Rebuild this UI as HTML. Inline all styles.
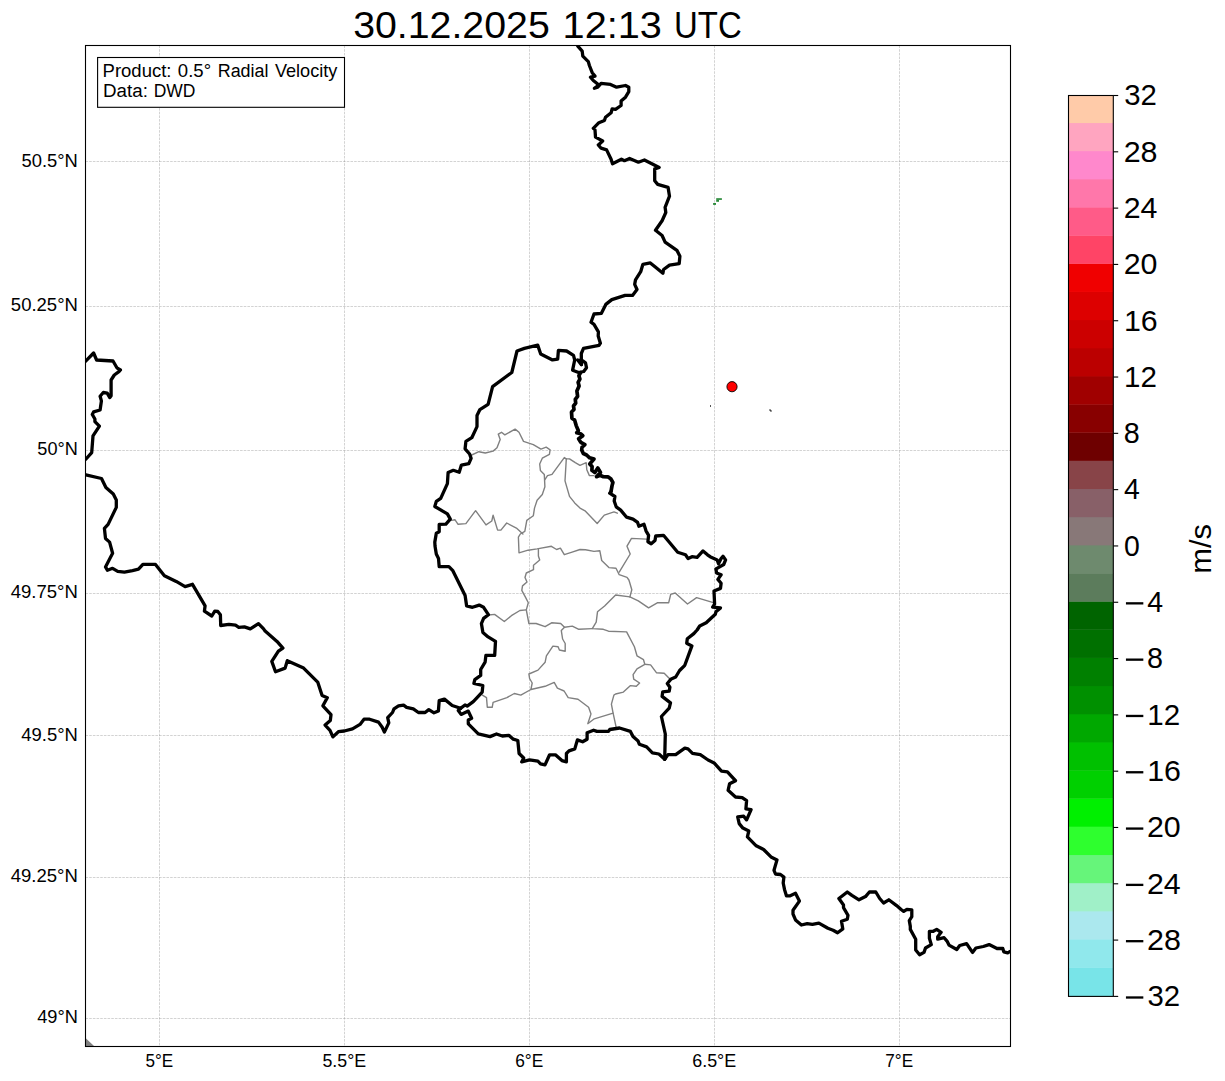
<!DOCTYPE html><html><head><meta charset="utf-8"><style>html,body{margin:0;padding:0;background:#fff;overflow:hidden;width:1225px;height:1081px;}svg{display:block;}text{font-family:"Liberation Sans",sans-serif;fill:#000;}</style></head><body>
<svg width="1225" height="1081" viewBox="0 0 1225 1081">
<rect x="0" y="0" width="1225" height="1081" fill="#fff"/>
<defs><clipPath id="ax"><rect x="85.5" y="45.5" width="925.0" height="1001.0"/></clipPath></defs>
<g clip-path="url(#ax)">
<g stroke="#808080" stroke-opacity="0.5" stroke-width="0.7" stroke-dasharray="2.57,1.11" fill="none">
<line x1="159.50" y1="45.5" x2="159.50" y2="1046.5"/>
<line x1="344.50" y1="45.5" x2="344.50" y2="1046.5"/>
<line x1="529.50" y1="45.5" x2="529.50" y2="1046.5"/>
<line x1="714.50" y1="45.5" x2="714.50" y2="1046.5"/>
<line x1="899.50" y1="45.5" x2="899.50" y2="1046.5"/>
<line x1="85.5" y1="161.50" x2="1010.5" y2="161.50"/>
<line x1="85.5" y1="306.50" x2="1010.5" y2="306.50"/>
<line x1="85.5" y1="450.50" x2="1010.5" y2="450.50"/>
<line x1="85.5" y1="593.50" x2="1010.5" y2="593.50"/>
<line x1="85.5" y1="735.50" x2="1010.5" y2="735.50"/>
<line x1="85.5" y1="877.50" x2="1010.5" y2="877.50"/>
<line x1="85.5" y1="1018.50" x2="1010.5" y2="1018.50"/>
</g>
<g stroke="#808080" stroke-width="1.4" fill="none" stroke-linejoin="round" stroke-linecap="round">
<path d="M471.7,455.0 L478.9,451.7 L485.3,453.0 L493.1,451.1 L497.0,447.8 L500.2,439.4 L498.3,434.2 L501.5,432.3 L504.8,434.9 L515.1,429.1 L519.0,432.3 L523.5,441.4 L533.3,444.6 L541.0,449.1 L546.2,447.2 L550.1,449.8 L549.4,454.3 L542.3,458.2 L539.7,464.0 L540.4,470.5 L544.3,474.4 L544.9,486.7 L542.3,494.5 L537.1,500.3 L534.5,508.1 L533.3,515.8 L526.8,520.4 L524.8,531.4 L520.3,534.0 L518.4,537.2 L519.0,552.8 L528.1,550.2 L537.1,548.9 L551.4,546.3 L556.6,549.5 L560.4,548.2 L564.3,554.7 L572.1,552.1 L580.0,549.5 L585.5,549.8 L594.0,551.4 L599.8,550.7 L601.7,560.5 L608.9,567.6 L616.0,568.2 L619.2,574.7 L627.0,577.3 L628.9,580.0 L629.9,583.3 L631.8,589.8 L629.9,596.9"/>
<path d="M644.8,664.3 L637.0,668.8 L633.1,674.6 L633.7,679.2 L639.6,683.0 L636.3,686.3 L630.5,685.6 L623.4,692.1 L615.6,694.0 L613.9,695.1 L611.4,704.1 L613.1,713.1 L616.3,727.8"/>
<path d="M564.5,627.3 L561.3,630.6 L562.6,639.0 L565.2,643.5 L565.2,651.3 L559.4,650.0 L558.1,646.8 L552.9,646.1 L546.4,655.8 L545.1,662.3 L538.0,670.1 L528.9,674.0 L529.6,678.5 L532.2,683.0 L530.9,689.5 L545.1,686.3 L554.2,682.4 L557.4,688.2 L564.1,691.0 L568.2,697.6 L578.0,699.2 L588.6,707.3 L591.0,713.9 L587.8,723.7 L594.3,718.8 L613.1,713.1"/>
<path d="M530.9,689.5 L520.8,695.1 L514.3,693.5 L506.9,697.6 L493.1,702.4 L492.2,707.3 L487.3,707.3 L486.5,697.6 L482.4,695.1"/>
<path d="M488.8,615.0 L494.6,614.4 L504.3,621.5 L511.4,615.7 L519.9,610.5 L526.3,609.9"/>
<path d="M544.9,479.6 L547.5,475.7 L552.0,474.4 L564.3,457.6 L566.3,458.9 L569.5,458.9 L575.3,462.7 L580.0,465.3 L586.2,462.7 L586.8,469.8 L589.4,475.6 L594.0,475.6"/>
<path d="M566.3,458.9 L565.0,480.9 L569.5,496.4 L574.7,502.9 L580.0,508.1 L585.5,511.2 L597.2,523.5 L604.3,515.1 L614.0,511.9 L617.3,513.2"/>
<path d="M451.7,520.4 L454.9,519.7 L458.1,524.3 L465.9,523.6 L475.6,510.7 L486.0,524.9 L491.8,521.0 L493.1,515.2 L497.6,530.1 L500.9,530.1 L506.7,523.0 L516.4,528.1 L522.9,534.0"/>
<path d="M538.4,549.5 L538.4,556.0 L539.7,560.0 L533.5,565.2 L533.5,569.7 L526.3,573.0 L525.0,577.5 L527.0,582.0 L522.5,585.9 L521.8,590.4 L525.7,597.6 L528.3,602.7 L526.3,609.9 L528.9,623.5 L536.1,623.5 L545.1,626.7 L551.6,622.8 L560.7,623.5 L564.5,627.3 L572.3,626.1 L578.8,629.3 L592.3,628.6"/>
<path d="M646.4,539.1 L631.5,538.4 L627.0,546.2 L630.2,554.0 L619.2,572.1"/>
<path d="M629.9,596.9 L638.3,600.8 L648.6,607.9 L657.7,602.7 L668.7,602.7 L670.7,594.3 L675.2,593.0 L687.5,604.0 L696.6,597.6 L713.4,602.7"/>
<path d="M629.9,596.9 L615.6,595.0 L604.6,606.0 L597.5,611.8 L596.2,622.2 L592.3,628.6 L603.3,629.3 L608.5,631.2 L626.6,631.9 L634.4,646.8 L637.0,655.8 L643.5,659.7 L644.8,664.3 L650.6,664.9 L656.4,672.7 L664.2,673.3 L669.4,678.5"/>
</g>
<g stroke="#000" stroke-width="3.3" fill="none" stroke-linejoin="round" stroke-linecap="round">
<path d="M85.4,361.4 L93.6,353.0 L96.6,360.0 L113.0,361.0 L116.9,367.8 L120.4,370.0 L118.9,371.7 L114.3,375.0 L111.1,380.0 L111.1,395.7 L109.8,397.6 L107.2,393.1 L103.3,392.5 L100.1,396.3 L101.4,400.9 L100.1,410.0 L93.6,411.9 L92.3,414.5 L94.9,419.0 L94.9,421.6 L99.4,426.1 L93.0,435.9 L91.7,452.7 L85.8,459.2"/>
<path d="M85.9,474.8 L101.5,478.5 L105.9,487.4 L113.3,494.0 L116.3,500.0 L116.3,507.4 L108.1,524.4 L104.4,528.4 L105.5,538.4 L109.6,542.1 L112.6,553.3 L105.5,566.9 L107.4,570.3 L112.6,568.3 L117.7,571.3 L124.4,572.2 L132.5,570.7 L138.5,569.2 L142.9,564.4 L155.5,564.4 L164.4,575.7 L176.2,581.4 L185.1,586.6 L192.5,584.3 L205.1,605.8 L204.4,611.1 L211.8,616.0 L214.8,611.1 L217.8,611.5 L220.4,614.8 L220.7,625.5 L228.9,624.4 L235.5,625.2 L238.8,627.4 L244.4,626.9 L250.3,628.9 L258.5,623.7 L263.6,628.9 L265.1,631.1 L277.0,641.4 L282.9,648.1 L278.4,651.1 L271.8,661.4 L275.5,671.8 L285.1,668.1 L287.3,660.7 L303.6,668.1 L317.7,682.1 L322.1,695.5 L327.3,697.7 L322.9,705.8 L331.0,714.7 L330.3,720.6 L325.1,725.1 L330.0,730.3 L332.9,736.9 L338.4,731.7 L344.3,731.0 L352.5,728.8 L360.0,724.4 L364.0,719.2 L369.6,719.2 L378.5,722.1 L382.2,727.3 L384.4,732.1 L388.8,722.9 L387.7,717.7 L392.5,712.5 L394.0,708.8 L398.5,705.9 L403.6,705.1 L406.6,707.3 L413.3,708.8 L418.4,712.5 L425.1,712.5 L428.8,709.6 L434.0,712.8 L438.4,711.0 L439.2,700.7 L444.4,699.1 L452.2,705.5 L460.5,708.3"/>
<path d="M460.5,708.3 L465.0,705.0 L467.2,706.1 L473.3,701.6 L482.2,692.2 L482.8,685.5 L473.9,683.3 L474.8,679.6 L480.7,675.4 L480.7,669.5 L485.1,662.1 L485.9,655.4 L494.7,655.4 L495.5,641.4 L488.1,636.9 L482.9,632.5 L481.4,623.6 L483.6,618.4 L488.4,614.7 L483.6,607.3 L479.2,605.1 L472.5,607.3 L466.6,605.8 L465.1,595.5 L452.6,570.3 L448.9,566.6 L439.2,566.6 L438.5,558.4 L436.3,554.0 L435.0,546.0 L434.8,542.1 L436.3,533.3 L439.2,531.8 L439.2,524.4 L445.9,524.1 L450.3,519.1 L447.4,513.9 L434.8,506.5 L436.3,501.4 L440.7,498.4 L447.4,483.6 L448.1,472.5 L453.3,470.3 L459.2,472.2 L461.4,465.1 L468.8,463.6 L471.1,458.4 L469.6,454.0 L465.1,448.8 L465.9,441.4 L471.8,437.7 L477.0,426.6 L477.0,415.5 L479.9,409.6 L488.1,404.4 L492.6,386.6 L511.8,372.5 L517.0,351.0 L524.4,348.4 L537.7,345.1 L540.7,354.0 L552.5,359.9 L557.7,359.2 L558.4,350.3 L566.6,351.0 L573.5,355.4 L574.7,360.0 L572.6,370.2 L578.6,372.5 L583.7,371.5 L586.5,367.8 L585.5,362.8 L582.8,360.9 L577.7,360.0 L581.4,364.6"/>
<path d="M581.4,364.6 L581.3,353.5 L583.5,348.4 L588.7,347.3 L599.0,345.4 L600.4,343.2 L598.2,335.9 L598.4,331.8 L594.0,324.4 L591.0,322.2 L594.0,314.0 L601.4,313.3 L605.8,304.4 L611.8,299.6 L625.1,295.4 L632.5,295.4 L637.0,289.5 L634.7,284.3 L635.5,279.9 L640.7,271.7 L642.9,264.3 L650.3,262.9 L654.7,266.6 L662.9,273.2 L663.6,269.5 L669.5,265.1 L679.2,263.6 L679.9,256.2 L676.9,250.3 L665.1,242.1 L662.1,235.5 L655.5,230.3 L662.1,220.7 L665.8,212.5 L665.1,207.3 L669.5,196.2 L668.1,187.4 L657.7,184.4 L654.7,180.7 L654.7,168.9 L659.2,167.4 L644.4,160.0 L638.4,162.2 L629.6,158.5 L624.4,160.7 L621.4,159.2 L612.5,163.7 L611.1,159.3 L606.6,149.9 L601.1,148.2 L598.3,144.9 L602.7,141.0 L595.5,137.1 L595.0,129.9 L593.3,128.3 L598.9,122.7 L604.4,120.5 L605.5,117.2 L611.1,112.7 L612.2,108.8 L615.5,109.4 L621.1,105.5 L621.1,101.1 L625.5,97.2 L628.8,91.6 L628.8,87.2 L625.5,85.5 L616.6,87.2 L610.5,84.4 L601.1,83.3 L597.7,87.2 L594.4,88.3 L598.9,85.0 L593.3,80.5 L590.5,77.2 L595.0,76.1 L592.2,72.7 L589.4,65.5 L588.3,61.6 L582.8,56.1 L582.2,51.1 L577.8,46.1 L576.0,42.0"/>
<path d="M611.0,491.5 L609.7,493.2 L614.9,496.5 L614.2,501.0 L616.2,506.8 L620.7,510.1 L626.6,517.2 L633.0,519.1 L637.6,522.4 L638.9,526.3 L644.0,524.3 L646.0,530.8 L648.6,535.3 L647.9,541.8 L651.2,543.7 L655.0,540.5 L655.7,536.0 L663.5,535.3 L677.7,552.2 L685.5,554.8 L688.1,558.6 L692.0,556.7 L697.1,557.3 L703.0,550.9 L707.5,554.8 L710.1,556.7 L717.2,559.9 L718.5,563.8 L721.1,558.6 L723.0,556.3 L725.6,559.9 L723.7,564.5 L719.2,567.1 L715.9,569.0 L716.6,572.9 L721.1,574.8 L717.9,579.4 L721.1,583.3 L720.5,588.4 L714.0,591.0 L714.6,604.0 L712.7,607.2 L720.5,607.9 L715.9,611.8 L715.3,614.3 L706.2,622.8 L699.7,626.0 L697.1,630.0 L693.8,633.6 L687.3,638.8 L686.7,643.3 L691.9,645.9 L684.8,665.3 L679.6,670.5 L675.7,677.0 L671.2,678.9 L667.3,683.5 L669.9,687.3 L669.2,691.2 L662.7,691.9 L662.1,696.4 L670.5,702.9 L669.2,708.1 L661.4,716.5 L665.3,734.0 L664.7,759.2"/>
<path d="M460.5,708.3 L458.3,710.5 L461.1,714.4 L468.3,711.1 L471.6,718.3 L468.3,720.0 L468.3,723.8 L478.3,733.8 L490.0,736.6 L496.5,734.0 L502.3,736.0 L508.8,735.3 L513.3,739.2 L517.8,740.5 L519.1,753.5 L523.7,758.0 L521.7,761.9 L529.5,759.9 L537.9,761.2 L540.5,763.8 L545.0,764.9 L549.6,754.8 L555.4,754.8 L561.9,760.6 L566.4,761.9 L566.4,753.5 L569.0,750.9 L574.8,748.9 L577.4,739.9 L582.6,741.8 L587.1,739.2 L587.1,732.7 L593.6,730.2 L596.9,731.4 L608.5,731.4 L609.8,729.5 L619.5,728.0 L630.4,731.4 L633.0,736.6 L638.1,741.1 L639.4,744.3 L646.6,746.9 L652.4,752.8 L658.9,754.0 L664.7,759.2"/>
<path d="M664.7,759.2 L667.9,754.7 L675.7,754.7 L684.8,748.2 L688.0,748.9 L692.5,753.4 L700.3,754.7 L708.1,760.0 L714.1,762.9 L721.5,771.1 L727.4,771.8 L735.5,780.7 L729.6,783.7 L728.1,790.3 L735.5,797.0 L742.2,797.7 L746.6,800.7 L745.9,808.8 L751.1,809.6 L746.6,819.9 L743.7,816.2 L737.7,817.0 L739.2,823.6 L742.9,828.1 L748.8,831.0 L747.4,836.9 L756.2,845.8 L763.6,849.5 L771.0,856.9 L777.0,859.9 L774.0,870.3 L775.5,874.0 L780.5,874.5 L783.9,877.1 L783.2,883.0 L784.5,889.4 L786.5,895.9 L789.7,895.9 L795.5,893.3 L799.4,901.1 L793.0,910.2 L793.0,914.0 L795.5,919.9 L801.4,925.0 L807.2,923.7 L812.4,924.4 L818.9,923.1 L827.9,928.3 L833.1,930.2 L837.6,932.8 L842.8,928.9 L841.5,921.2 L847.3,919.2 L848.0,915.3 L843.5,907.6 L843.5,905.0 L838.9,898.5 L847.3,892.0 L851.9,895.3 L859.0,899.8 L865.5,896.6 L869.4,892.0 L875.8,892.0 L879.7,898.5 L883.6,903.0 L888.8,899.8 L896.6,905.6 L901.1,909.5 L903.7,911.4 L906.9,909.3 L911.8,909.8 L911.8,916.7 L909.3,920.6 L910.3,926.4 L910.3,929.4 L915.7,939.2 L915.7,950.0 L919.6,954.8 L924.0,952.4 L925.5,948.0 L931.3,944.6 L929.4,938.2 L929.4,931.3 L933.3,931.3 L936.7,929.4 L941.1,932.3 L937.7,936.7 L937.7,939.2 L944.1,937.7 L947.0,941.1 L949.0,945.1 L956.8,949.5 L959.7,945.5 L966.6,943.6 L972.5,952.4 L975.9,948.0 L983.3,946.5 L989.1,944.6 L997.0,948.5 L1002.8,948.5 L1003.8,951.9 L1007.7,952.9 L1010.2,951.4"/>
<path d="M580.6,372.7 L578.9,375.7 L579.9,379.1 L578.1,382.3 L579.1,385.9 L576.9,390.9 L577.6,396.3 L575.3,399.4 L575.7,403.2 L573.5,406.0 L574.0,409.5 L571.5,412.0 L571.7,414.9 L571.9,418.2 L574.6,420.1 L576.2,425.6 L578.4,430.8 L576.7,432.8 L580.5,433.7 L582.8,435.7 L578.6,438.8 L580.8,442.4 L584.9,444.7 L582.1,447.1 L581.7,450.0 L583.3,453.5 L586.6,455.0 L589.6,457.8 L594.0,459.1 L589.7,463.9 L592.1,466.5 L591.9,470.3 L594.9,472.5 L597.8,468.0 L600.5,472.4 L596.5,476.7 L600.0,475.3 L603.4,476.7 L607.9,476.8 L611.0,479.1 L612.9,482.5 L612.0,485.9 L611.0,491.5" stroke-width="3.7"/>
</g>
</g>
<path d="M86,1038.5 L86,1046 L94,1046 Z" fill="#808080"/>
<rect x="85.5" y="45.5" width="925.0" height="1001.0" fill="none" stroke="#000" stroke-width="1.1"/>
<rect x="97.6" y="57.5" width="246.9" height="49.8" fill="#fff" stroke="#000" stroke-width="1.1"/>
<text x="102.58" y="76.70" font-size="17.88" textLength="68.91" lengthAdjust="spacingAndGlyphs">Product:</text>
<text x="177.87" y="76.70" font-size="17.88" textLength="33.24" lengthAdjust="spacingAndGlyphs">0.5°</text>
<text x="217.73" y="76.70" font-size="17.88" textLength="50.77" lengthAdjust="spacingAndGlyphs">Radial</text>
<text x="274.92" y="76.70" font-size="17.88" textLength="62.51" lengthAdjust="spacingAndGlyphs">Velocity</text>
<text x="103.06" y="96.80" font-size="17.88" textLength="44.85" lengthAdjust="spacingAndGlyphs">Data:</text>
<text x="153.67" y="96.80" font-size="17.88" textLength="41.77" lengthAdjust="spacingAndGlyphs">DWD</text>
<text x="353.20" y="37.60" font-size="36.77" textLength="196.54" lengthAdjust="spacingAndGlyphs">30.12.2025</text>
<text x="562.58" y="37.60" font-size="36.77" textLength="99.26" lengthAdjust="spacingAndGlyphs">12:13</text>
<text x="674.06" y="37.60" font-size="36.77" textLength="67.70" lengthAdjust="spacingAndGlyphs">UTC</text>
<text x="21.46" y="166.90" font-size="17.88" textLength="56.44" lengthAdjust="spacingAndGlyphs">50.5°N</text>
<text x="10.85" y="310.80" font-size="17.88" textLength="67.05" lengthAdjust="spacingAndGlyphs">50.25°N</text>
<text x="37.38" y="454.80" font-size="17.88" textLength="40.50" lengthAdjust="spacingAndGlyphs">50°N</text>
<text x="10.70" y="597.60" font-size="17.88" textLength="67.22" lengthAdjust="spacingAndGlyphs">49.75°N</text>
<text x="21.30" y="740.80" font-size="17.88" textLength="56.60" lengthAdjust="spacingAndGlyphs">49.5°N</text>
<text x="10.70" y="881.60" font-size="17.88" textLength="67.22" lengthAdjust="spacingAndGlyphs">49.25°N</text>
<text x="37.22" y="1022.60" font-size="17.88" textLength="40.67" lengthAdjust="spacingAndGlyphs">49°N</text>
<text x="145.40" y="1066.90" font-size="18.17" textLength="27.74" lengthAdjust="spacingAndGlyphs">5°E</text>
<text x="322.43" y="1066.90" font-size="18.17" textLength="43.70" lengthAdjust="spacingAndGlyphs">5.5°E</text>
<text x="515.18" y="1066.90" font-size="18.17" textLength="28.06" lengthAdjust="spacingAndGlyphs">6°E</text>
<text x="692.22" y="1066.90" font-size="18.17" textLength="44.03" lengthAdjust="spacingAndGlyphs">6.5°E</text>
<text x="885.32" y="1066.90" font-size="18.17" textLength="27.86" lengthAdjust="spacingAndGlyphs">7°E</text>
<rect x="1068.5" y="967.25" width="44.80" height="29.15" fill="#78E4E8"/>
<rect x="1068.5" y="939.09" width="44.80" height="28.55" fill="#90E8EC"/>
<rect x="1068.5" y="910.94" width="44.80" height="28.55" fill="#ABE8EE"/>
<rect x="1068.5" y="882.79" width="44.80" height="28.55" fill="#A0F0C8"/>
<rect x="1068.5" y="854.63" width="44.80" height="28.55" fill="#66F57A"/>
<rect x="1068.5" y="826.48" width="44.80" height="28.55" fill="#2EFF2E"/>
<rect x="1068.5" y="798.33" width="44.80" height="28.55" fill="#00F000"/>
<rect x="1068.5" y="770.17" width="44.80" height="28.55" fill="#00D000"/>
<rect x="1068.5" y="742.02" width="44.80" height="28.55" fill="#00C000"/>
<rect x="1068.5" y="713.87" width="44.80" height="28.55" fill="#00A800"/>
<rect x="1068.5" y="685.72" width="44.80" height="28.55" fill="#009000"/>
<rect x="1068.5" y="657.56" width="44.80" height="28.55" fill="#008000"/>
<rect x="1068.5" y="629.41" width="44.80" height="28.55" fill="#007000"/>
<rect x="1068.5" y="601.26" width="44.80" height="28.55" fill="#006400"/>
<rect x="1068.5" y="573.10" width="44.80" height="28.55" fill="#5C7C5C"/>
<rect x="1068.5" y="544.95" width="44.80" height="28.55" fill="#6E8A6E"/>
<rect x="1068.5" y="516.80" width="44.80" height="28.55" fill="#887878"/>
<rect x="1068.5" y="488.64" width="44.80" height="28.55" fill="#886068"/>
<rect x="1068.5" y="460.49" width="44.80" height="28.55" fill="#884448"/>
<rect x="1068.5" y="432.34" width="44.80" height="28.55" fill="#6E0000"/>
<rect x="1068.5" y="404.18" width="44.80" height="28.55" fill="#880000"/>
<rect x="1068.5" y="376.03" width="44.80" height="28.55" fill="#A00000"/>
<rect x="1068.5" y="347.88" width="44.80" height="28.55" fill="#BB0000"/>
<rect x="1068.5" y="319.73" width="44.80" height="28.55" fill="#CC0000"/>
<rect x="1068.5" y="291.57" width="44.80" height="28.55" fill="#DD0000"/>
<rect x="1068.5" y="263.42" width="44.80" height="28.55" fill="#F00000"/>
<rect x="1068.5" y="235.27" width="44.80" height="28.55" fill="#FF4466"/>
<rect x="1068.5" y="207.11" width="44.80" height="28.55" fill="#FF5B88"/>
<rect x="1068.5" y="178.96" width="44.80" height="28.55" fill="#FF77AA"/>
<rect x="1068.5" y="150.81" width="44.80" height="28.55" fill="#FF88CC"/>
<rect x="1068.5" y="122.65" width="44.80" height="28.55" fill="#FFA5C0"/>
<rect x="1068.5" y="95.50" width="44.80" height="27.55" fill="#FFCBA9"/>
<rect x="1068.5" y="95.5" width="44.80" height="900.90" fill="none" stroke="#000" stroke-width="1.1"/>
<line x1="1113.3" y1="996.40" x2="1118.20" y2="996.40" stroke="#000" stroke-width="1.1"/>
<rect x="1125.94" y="996.34" width="17.39" height="2.31" fill="#000"/>
<text x="1147.47" y="1006.20" font-size="29.43" textLength="32.65" lengthAdjust="spacingAndGlyphs">32</text>
<line x1="1113.3" y1="940.09" x2="1118.20" y2="940.09" stroke="#000" stroke-width="1.1"/>
<rect x="1125.94" y="940.03" width="17.39" height="2.31" fill="#000"/>
<text x="1146.98" y="949.89" font-size="29.43" textLength="33.87" lengthAdjust="spacingAndGlyphs">28</text>
<line x1="1113.3" y1="883.79" x2="1118.20" y2="883.79" stroke="#000" stroke-width="1.1"/>
<rect x="1125.94" y="883.73" width="17.39" height="2.31" fill="#000"/>
<text x="1146.98" y="893.59" font-size="29.43" textLength="33.77" lengthAdjust="spacingAndGlyphs">24</text>
<line x1="1113.3" y1="827.48" x2="1118.20" y2="827.48" stroke="#000" stroke-width="1.1"/>
<rect x="1125.94" y="827.42" width="17.39" height="2.31" fill="#000"/>
<text x="1146.98" y="837.28" font-size="29.43" textLength="33.78" lengthAdjust="spacingAndGlyphs">20</text>
<line x1="1113.3" y1="771.17" x2="1118.20" y2="771.17" stroke="#000" stroke-width="1.1"/>
<rect x="1125.94" y="771.11" width="17.39" height="2.31" fill="#000"/>
<text x="1147.21" y="780.97" font-size="29.43" textLength="33.80" lengthAdjust="spacingAndGlyphs">16</text>
<line x1="1113.3" y1="714.87" x2="1118.20" y2="714.87" stroke="#000" stroke-width="1.1"/>
<rect x="1125.94" y="714.81" width="17.39" height="2.31" fill="#000"/>
<text x="1147.28" y="724.67" font-size="29.43" textLength="32.85" lengthAdjust="spacingAndGlyphs">12</text>
<line x1="1113.3" y1="658.56" x2="1118.20" y2="658.56" stroke="#000" stroke-width="1.1"/>
<rect x="1125.94" y="658.50" width="17.39" height="2.31" fill="#000"/>
<text x="1147.11" y="668.36" font-size="29.43" textLength="15.99" lengthAdjust="spacingAndGlyphs">8</text>
<line x1="1113.3" y1="602.26" x2="1118.20" y2="602.26" stroke="#000" stroke-width="1.1"/>
<rect x="1125.94" y="602.19" width="17.39" height="2.31" fill="#000"/>
<text x="1147.18" y="612.06" font-size="29.43" textLength="15.85" lengthAdjust="spacingAndGlyphs">4</text>
<line x1="1113.3" y1="545.95" x2="1118.20" y2="545.95" stroke="#000" stroke-width="1.1"/>
<text x="1123.92" y="555.75" font-size="29.43" textLength="15.82" lengthAdjust="spacingAndGlyphs">0</text>
<line x1="1113.3" y1="489.64" x2="1118.20" y2="489.64" stroke="#000" stroke-width="1.1"/>
<text x="1123.90" y="499.44" font-size="29.43" textLength="15.85" lengthAdjust="spacingAndGlyphs">4</text>
<line x1="1113.3" y1="433.34" x2="1118.20" y2="433.34" stroke="#000" stroke-width="1.1"/>
<text x="1123.84" y="443.14" font-size="29.43" textLength="15.99" lengthAdjust="spacingAndGlyphs">8</text>
<line x1="1113.3" y1="377.03" x2="1118.20" y2="377.03" stroke="#000" stroke-width="1.1"/>
<text x="1124.00" y="386.83" font-size="29.43" textLength="32.85" lengthAdjust="spacingAndGlyphs">12</text>
<line x1="1113.3" y1="320.73" x2="1118.20" y2="320.73" stroke="#000" stroke-width="1.1"/>
<text x="1123.94" y="330.53" font-size="29.43" textLength="33.80" lengthAdjust="spacingAndGlyphs">16</text>
<line x1="1113.3" y1="264.42" x2="1118.20" y2="264.42" stroke="#000" stroke-width="1.1"/>
<text x="1123.71" y="274.22" font-size="29.43" textLength="33.78" lengthAdjust="spacingAndGlyphs">20</text>
<line x1="1113.3" y1="208.11" x2="1118.20" y2="208.11" stroke="#000" stroke-width="1.1"/>
<text x="1123.71" y="217.91" font-size="29.43" textLength="33.77" lengthAdjust="spacingAndGlyphs">24</text>
<line x1="1113.3" y1="151.81" x2="1118.20" y2="151.81" stroke="#000" stroke-width="1.1"/>
<text x="1123.70" y="161.61" font-size="29.43" textLength="33.87" lengthAdjust="spacingAndGlyphs">28</text>
<line x1="1113.3" y1="95.50" x2="1118.20" y2="95.50" stroke="#000" stroke-width="1.1"/>
<text x="1124.20" y="105.30" font-size="29.43" textLength="32.65" lengthAdjust="spacingAndGlyphs">32</text>
<g transform="translate(1211,571.8) rotate(-90)"><text x="-2.06" y="0.00" font-size="29.44" textLength="49.98" lengthAdjust="spacingAndGlyphs">m/s</text></g>
<circle cx="732" cy="386.7" r="5.1" fill="#f00" stroke="#000" stroke-width="0.9"/><rect x="716.2" y="198.2" width="5.7" height="1.7" fill="#2a8a3a"/><rect x="716.2" y="199.9" width="2.8" height="1.9" fill="#2a8a3a"/><rect x="713.1" y="203" width="2.9" height="1.9" fill="#2a8a3a"/><rect x="710" y="405" width="1" height="2" fill="#555"/><path d="M769.5,409.5 L771.5,411.5" stroke="#444" stroke-width="1.6"/>
</svg></body></html>
